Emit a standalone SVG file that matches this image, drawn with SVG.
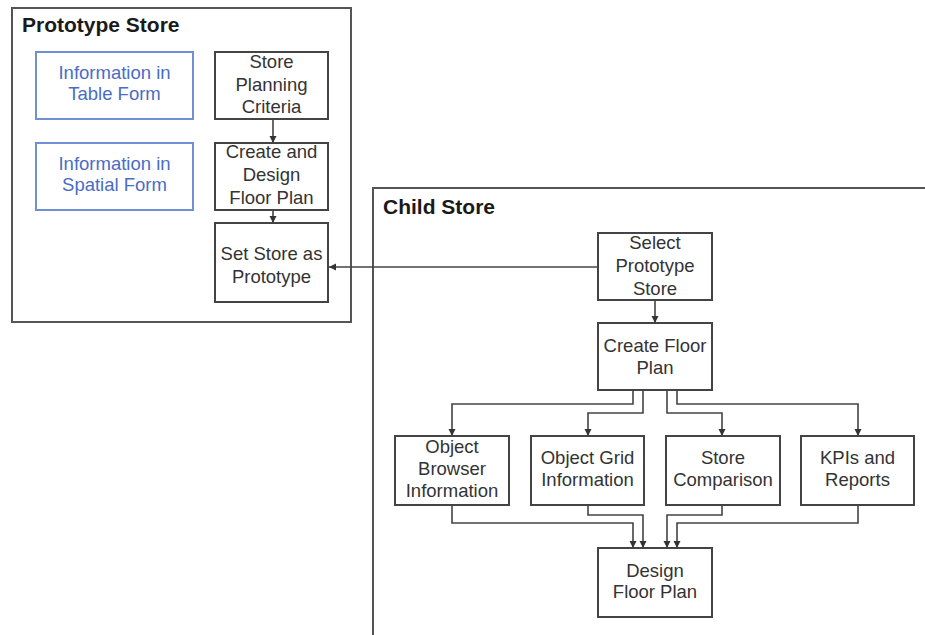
<svg xmlns="http://www.w3.org/2000/svg" width="925" height="635" viewBox="0 0 925 635">
  <defs>
    <marker id="arrow" markerUnits="userSpaceOnUse" markerWidth="8" markerHeight="8" refX="7" refY="3.5" orient="auto">
      <path d="M0,0 L7,3.5 L0,7 z" fill="#333"/>
    </marker>
    <style>
      .frame { fill: none; stroke: #555; stroke-width: 2; }
      .title { font-family: "Liberation Sans", Arial, sans-serif; font-weight: bold; font-size: 21px; fill: #1a1a1a; }
      .box { fill: #fff; stroke: #444; stroke-width: 2; }
      .info { fill: #fff; stroke: #6f8fd6; stroke-width: 2; }
      .lbl { font-family: "Liberation Sans", Arial, sans-serif; font-size: 18.5px; fill: #333; text-anchor: middle; }
      .blue { fill: #4a6cc4; }
      .conn { fill: none; stroke: #444; stroke-width: 1.6; marker-end: url(#arrow); }
    </style>
  </defs>

  <rect width="925" height="635" fill="#fff"/>

  <!-- containers -->
  <g id="prototype-store">
    <rect class="frame" x="12" y="8" width="339" height="314"/>
    <text class="title" x="22" y="32">Prototype Store</text>
  </g>
  <g id="child-store">
    <path class="frame" d="M925,188 H373 V635"/>
    <text class="title" x="383" y="214">Child Store</text>
  </g>

  <!-- prototype store nodes -->
  <g id="info-table">
    <rect class="info" x="36" y="52" width="157" height="67"/>
    <text class="lbl blue" x="114.5" y="79">Information in</text>
    <text class="lbl blue" x="114.5" y="100">Table Form</text>
  </g>
  <g id="info-spatial">
    <rect class="info" x="36" y="143" width="157" height="67"/>
    <text class="lbl blue" x="114.5" y="170">Information in</text>
    <text class="lbl blue" x="114.5" y="191">Spatial Form</text>
  </g>
  <g id="planning-criteria">
    <rect class="box" x="215" y="52" width="113" height="67"/>
    <text class="lbl" x="271.5" y="68">Store</text>
    <text class="lbl" x="271.5" y="91">Planning</text>
    <text class="lbl" x="271.5" y="113">Criteria</text>
  </g>
  <g id="create-design">
    <rect class="box" x="215" y="143" width="113" height="67"/>
    <text class="lbl" x="271.5" y="158">Create and</text>
    <text class="lbl" x="271.5" y="181">Design</text>
    <text class="lbl" x="271.5" y="204">Floor Plan</text>
  </g>
  <g id="set-prototype">
    <rect class="box" x="215" y="223" width="113" height="79"/>
    <text class="lbl" x="271.5" y="260">Set Store as</text>
    <text class="lbl" x="271.5" y="283">Prototype</text>
  </g>

  <!-- child store nodes -->
  <g id="select-prototype">
    <rect class="box" x="598" y="233" width="114" height="67"/>
    <text class="lbl" x="655" y="249">Select</text>
    <text class="lbl" x="655" y="272">Prototype</text>
    <text class="lbl" x="655" y="295">Store</text>
  </g>
  <g id="create-floor-plan">
    <rect class="box" x="598" y="323" width="114" height="67"/>
    <text class="lbl" x="655" y="352">Create Floor</text>
    <text class="lbl" x="655" y="374">Plan</text>
  </g>
  <g id="object-browser">
    <rect class="box" x="395" y="436" width="114" height="69"/>
    <text class="lbl" x="452" y="453">Object</text>
    <text class="lbl" x="452" y="475">Browser</text>
    <text class="lbl" x="452" y="497">Information</text>
  </g>
  <g id="object-grid">
    <rect class="box" x="531" y="436" width="113" height="69"/>
    <text class="lbl" x="587.5" y="464">Object Grid</text>
    <text class="lbl" x="587.5" y="486">Information</text>
  </g>
  <g id="store-comparison">
    <rect class="box" x="666" y="436" width="114" height="69"/>
    <text class="lbl" x="723" y="464">Store</text>
    <text class="lbl" x="723" y="486">Comparison</text>
  </g>
  <g id="kpis-reports">
    <rect class="box" x="801" y="436" width="113" height="69"/>
    <text class="lbl" x="857.5" y="464">KPIs and</text>
    <text class="lbl" x="857.5" y="486">Reports</text>
  </g>
  <g id="design-floor-plan">
    <rect class="box" x="598" y="548" width="114" height="69"/>
    <text class="lbl" x="655" y="577">Design</text>
    <text class="lbl" x="655" y="598">Floor Plan</text>
  </g>

  <!-- connectors -->
  <g id="connectors">
    <path class="conn" d="M273,119 V143"/>
    <path class="conn" d="M273,210 V223"/>
    <path class="conn" d="M598,267 H329"/>
    <path class="conn" d="M655,300 V323"/>
    <path class="conn" d="M633,390 V404 H452 V436"/>
    <path class="conn" d="M643,390 V413 H588 V436"/>
    <path class="conn" d="M667,390 V413 H722 V436"/>
    <path class="conn" d="M677,390 V404 H858 V436"/>
    <path class="conn" d="M452,505 V523 H633 V548"/>
    <path class="conn" d="M588,505 V515 H643 V548"/>
    <path class="conn" d="M722,505 V515 H667 V548"/>
    <path class="conn" d="M858,505 V523 H677 V548"/>
  </g>
</svg>
